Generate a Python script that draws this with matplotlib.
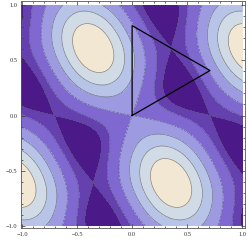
import numpy as np
import matplotlib
matplotlib.use("Agg")
import matplotlib.pyplot as plt

# field parameters (lattice coords u, v on the plotted plane)
coupling = 1.9
cross_term = 0.12
levels = [-1.78, -1.25, -0.22, 0.9, 1.98, 2.95]
band_colors = ["#4b1a88", "#6441ae", "#7f68cf", "#9d9ae2",
               "#b8c3e8", "#d0dbe5", "#f1e7d3"]

# triangle overlay
tri_x = [0.0, 0.0, 0.707, 0.0]
tri_y = [0.0, 0.816, 0.408, 0.0]

tick_vals = [-1.0, -0.5, 0.0, 0.5, 1.0]
tick_labels = ["\u22121.0", "\u22120.5", "0.0", "0.5", "1.0"]

x = np.linspace(-1, 1, 500)
y = np.linspace(-1, 1, 500)
X, Y = np.meshgrid(x, y)
U = X / np.sqrt(2) - Y / np.sqrt(6)
V = 2 * Y / np.sqrt(6)
Z = (-np.cos(2 * np.pi * U) - np.cos(2 * np.pi * V)
     + coupling * np.cos(2 * np.pi * (U + V))
     - cross_term * np.cos(2 * np.pi * (U - V)))

fig = plt.figure(figsize=(2.49, 2.43), dpi=100)
ax = fig.add_axes([0.083, 0.0605, 0.901, 0.9365])

bounds = [Z.min() - 1] + levels + [Z.max() + 1]
ax.contourf(X, Y, Z, levels=bounds, colors=band_colors)
ax.contour(X, Y, Z, levels=levels, colors="#555566", linewidths=0.5, alpha=0.7)
ax.plot(tri_x, tri_y, color="black", lw=0.9)

ax.set_xlim(-1.012, 1.025)
ax.set_ylim(-1.024, 1.042)

ax.set_xticks(tick_vals)
ax.set_xticklabels(tick_labels)
ax.set_yticks(tick_vals)
ax.set_yticklabels(tick_labels)
ax.set_xticks(np.arange(-1.0, 1.01, 0.1), minor=True)
ax.set_yticks(np.arange(-1.0, 1.01, 0.1), minor=True)
ax.tick_params(which="both", direction="in", top=True, right=True,
               width=0.5, colors="#333333")
ax.tick_params(which="major", length=2.6, labelsize=4.6, pad=2.5,
               labelcolor="#333333")
ax.tick_params(which="minor", length=1.4)
for lab in ax.get_xticklabels() + ax.get_yticklabels():
    lab.set_family("Liberation Serif")
for s in ax.spines.values():
    s.set_linewidth(0.6)
    s.set_color("#555555")

fig.savefig("out.png", dpi=100)
